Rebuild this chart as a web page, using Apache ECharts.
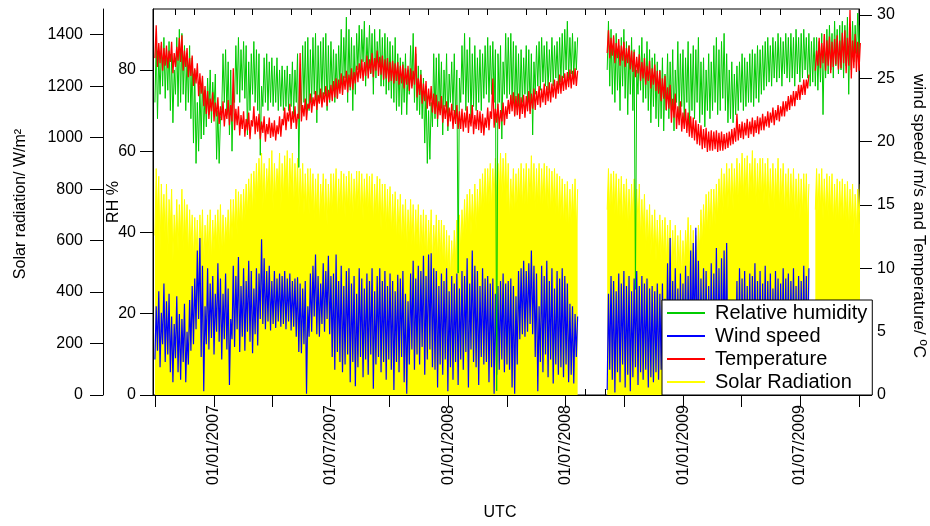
<!DOCTYPE html>
<html><head><meta charset="utf-8">
<script src="https://cdn.jsdelivr.net/npm/echarts@6/dist/echarts.min.js"></script>
<style>html,body{margin:0;padding:0;background:#fff}#c{width:930px;height:526px}</style>
</head><body><div id="c"></div>
<script>
// ---- time base: one low/high reading pair per 4-day window (UTC) ----
const startDate = [2006, 10, 1];
const stepDays = 4;
const axisStart = [2006, 9, 28];
const axisEnd = [2009, 10, 1];
const N = 11; // null run length helper is not used for values

// ---- Relative humidity (%), low / high of each window ----
const rhLo = [
 72,68,74,76,73,75,70,67,74,71,
 72,74,70,72,68,62,57,60,63,64,
 66,69,67,70,58,57,70,72,69,64,
 60,72,74,72,75,73,64,70,74,72,
 70,59,71,72,70,72,71,72,70,71,
 70,71,70,71,69,72,56,70,72,70,
 70,72,74,67,72,73,74,70,72,
 74,72,73,76,74,78,72,75,70,74,
 80,78,82,76,80,79,74,78,81,76,
 76,74,75,73,72,70,71,69,72,69,
 74,76,72,70,69,68,62,57,58,66,
 68,66,70,64,71,65,72,70,68,30,
 72,74,70,72,67,71,70,72,70,73,
 74,72,74,72,1,72,63,74,73,
 74,72,69,71,70,72,74,72,70,64,
 74,76,75,77,76,75,77,76,78,76,
 77,78,80,78,79,78,80,
 null,null,null,null,null,null,null,null,null,null,null,
 80,76,74,72,75,70,76,73,69,74,
 70,26,74,75,72,73,70,67,71,68,
 66,68,65,70,68,70,65,72,69,71,67,
 72,65,70,68,72,67,69,66,70,68,
 70,72,69,70,73,70,67,68,67,69,
 70,72,70,71,72,72,71,73,72,74,
 75,76,77,76,78,77,78,76,79,78,
 77,78,76,79,77,78,80,78,76,77,
 76,75,77,69,78,79,80,78,81,79,
 80,78,81,74,80,82,84,82
];
const rhHi = [
 87,84,86,88,85,87,84,80,88,90,
 89,86,84,86,83,80,72,76,78,75,
 78,80,77,79,70,68,84,85,82,80,
 74,86,88,85,87,86,82,84,87,85,
 84,76,83,84,82,83,81,83,80,81,
 80,81,79,82,80,84,78,86,87,88,
 85,88,89,86,87,88,89,86,87,
 85,84,86,90,88,93,90,88,86,89,
 91,90,92,88,91,89,90,87,90,88,
 89,88,87,86,88,84,83,82,84,80,
 86,89,84,81,80,78,76,70,72,84,
 83,84,82,80,84,79,82,84,80,78,
 86,89,85,88,84,86,83,85,84,86,
 88,86,87,85,84,86,82,89,88,
 89,87,86,84,85,83,86,85,84,82,
 86,87,88,86,87,85,88,86,87,88,
 89,90,92,88,89,87,88,
 null,null,null,null,null,null,null,null,null,null,null,
 92,90,88,89,86,88,90,87,86,88,
 85,80,86,88,84,87,85,83,84,82,
 80,83,79,84,82,85,80,87,84,85,83,
 87,84,86,85,88,82,83,80,84,82,
 86,88,85,87,89,84,80,82,79,81,
 82,84,83,82,84,85,84,86,85,86,
 87,88,86,88,87,89,88,87,89,88,
 89,88,90,88,89,90,88,89,87,88,
 88,87,89,86,90,91,89,92,90,91,
 92,91,93,90,92,91,94,91
];

// ---- Wind speed (m/s), low / high of each window ----
const windLo = [
 2.8,3.5,2.2,4.0,2.6,3.2,1.8,1.0,2.9,1.8,
 1.2,2.6,1.0,2.4,3.5,4.0,5.2,6.0,3.0,0.3,
 4.0,3.6,4.5,3.2,5.0,4.2,2.8,4.4,3.6,0.8,
 4.4,3.8,5.2,3.4,4.6,3.5,5.0,4.2,3.3,4.8,
 3.9,6.0,5.6,5.2,5.8,5.1,5.6,5.3,5.8,5.4,
 5.6,5.2,5.8,5.1,5.4,4.6,3.4,3.3,4.0,0.1,
 4.6,5.0,6.2,4.8,4.6,5.6,5.0,6.0,4.8,
 3.0,2.0,3.4,2.6,1.8,2.4,3.2,1.0,2.6,0.7,
 2.2,3.0,1.4,2.8,1.6,3.2,0.5,2.4,3.0,1.8,
 2.6,1.2,2.8,2.0,0.4,2.6,1.8,3.0,1.0,0.1,
 2.4,3.6,2.0,3.2,2.4,3.8,1.6,2.8,3.6,2.2,
 2.0,0.6,2.4,1.6,2.8,0.3,2.2,1.2,2.6,0.8,
 2.8,2.0,3.4,0.6,3.6,2.6,2.2,0.8,3.0,2.4,
 2.6,1.0,2.2,0.1,1.6,2.0,2.8,1.8,2.4,
 2.0,0.6,0.1,2.4,4.4,4.8,4.6,5.0,5.6,4.8,
 3.0,0.3,2.6,1.8,3.2,1.4,2.8,0.9,2.4,1.6,
 2.2,1.4,2.4,1.0,1.6,0.9,3.0,
 null,null,null,null,null,null,null,null,null,null,null,
 0.4,2.0,1.2,0.2,1.8,1.0,2.4,0.6,1.6,0.3,
 1.4,2.2,0.8,1.8,1.2,2.0,0.6,1.4,1.0,1.8,
 1.2,2.0,1.0,2.6,3.0,1.8,2.4,1.2,2.0,1.6,2.4,
 2.0,2.8,3.2,3.6,2.4,1.6,2.2,2.0,1.2,2.6,
 2.2,3.0,2.0,2.6,3.0,2.8,1.0,0.6,1.2,1.8,
 1.6,2.2,1.8,1.0,2.0,1.6,2.4,1.2,2.0,1.4,
 2.0,1.4,2.2,1.0,2.2,1.6,1.2,2.4,1.6,2.0,
 1.6,2.4,1.2,2.0,1.8,2.6,2.0,2.4,null,null,
 null,null,null,null,null,null,null,null,null,null,
 null,null,null,null,null,null,null,null
];
const windHi = [
 7.0,8.2,6.5,8.8,7.4,8.0,6.2,5.6,7.8,6.4,
 6.0,7.2,5.0,7.5,8.6,9.2,11.4,12.4,10.2,7.0,
 10.0,8.8,9.4,8.0,10.4,9.2,8.0,9.6,8.4,6.0,
 10.2,9.4,10.9,8.6,10.0,9.0,10.6,9.8,8.4,10.0,
 9.6,12.3,10.8,9.8,10.2,9.0,9.8,9.2,9.6,9.4,
 9.8,9.2,9.6,9.0,9.2,9.3,8.8,8.4,9.0,7.0,
 9.6,10.2,11.1,9.4,8.8,10.4,9.8,11.0,9.4,
 9.6,11.1,9.0,10.2,8.6,9.8,10.0,8.8,9.4,8.0,
 10.0,9.2,8.4,9.6,9.0,10.0,8.2,9.4,10.0,9.0,
 9.8,8.6,9.6,9.0,8.2,9.5,9.2,9.8,8.0,7.4,
 9.6,10.6,9.2,10.2,9.8,11.0,9.4,11.1,11.2,10.0,
 9.8,8.6,9.6,9.0,10.0,8.2,9.4,8.8,9.6,8.4,
 9.8,9.4,10.8,8.8,11.4,10.2,9.8,8.6,10.0,9.2,
 9.4,8.8,9.2,8.0,8.6,9.0,9.6,8.8,9.0,
 9.2,8.6,7.8,9.8,10.0,10.6,9.8,10.4,11.4,10.2,
 9.6,7.0,10.2,9.4,10.6,9.0,10.0,8.4,9.8,9.2,
 10.0,9.4,8.8,7.2,7.0,6.4,6.2,
 null,null,null,null,null,null,null,null,null,null,null,
 8.0,9.4,9.0,8.2,9.6,8.8,9.8,8.6,9.4,8.2,
 9.2,9.8,8.6,9.4,8.8,9.2,8.4,8.6,8.2,8.8,
 8.0,8.8,7.6,10.4,12.4,9.0,10.0,8.4,9.6,8.8,10.2,
 9.4,11.4,12.0,13.2,10.6,9.2,10.0,9.8,8.6,10.4,
 9.6,11.6,10.0,10.8,11.4,12.0,7.2,6.8,7.4,9.0,
 10.0,9.2,9.8,8.6,9.6,9.4,10.4,9.0,9.8,8.8,
 10.2,9.0,9.6,8.4,9.8,9.2,8.8,10.0,9.2,9.6,
 9.0,10.0,8.6,9.4,9.0,10.2,9.4,10.0,null,null,
 null,null,null,null,null,null,null,null,null,null,
 null,null,null,null,null,null,null,null
];

// ---- Temperature (deg C), low / high of each window ----
const tempLo = [
 26.6,25.9,26.2,25.6,26.0,25.8,26.3,25.4,25.9,26.4,
 26.3,25.6,25.9,25.1,25.2,24.4,24.6,23.6,23.8,22.8,
 22.2,21.8,22.4,21.6,22.0,21.4,21.7,21.2,21.8,21.3,
 21.6,20.9,21.3,20.5,21.0,20.4,20.9,20.2,21.2,20.6,
 20.8,20.2,20.7,20.0,20.6,20.3,20.4,20.1,20.6,20.4,
 21.3,20.9,21.6,21.0,21.5,21.0,21.8,21.6,22.0,21.7,
 22.6,22.3,22.8,22.5,23.0,22.7,23.1,22.8,23.3,
 23.2,23.5,23.4,23.8,23.7,24.1,23.9,24.3,24.1,24.6,
 24.7,25.0,24.8,25.2,25.0,25.4,25.1,25.6,25.2,25.3,
 24.9,25.0,24.7,24.8,24.6,24.8,24.5,24.6,24.2,24.5,
 24.0,24.2,24.5,23.5,23.7,23.0,23.2,22.6,22.8,22.3,
 22.2,21.8,22.1,21.5,21.8,21.2,21.6,21.0,21.4,21.0,
 21.0,20.8,21.1,20.7,21.2,20.6,21.0,20.9,20.7,20.5,
 21.1,20.9,21.8,21.1,21.5,21.0,21.6,21.3,21.8,
 22.2,22.4,22.0,22.1,21.8,22.2,21.9,22.4,22.2,22.6,
 22.5,22.9,22.7,23.1,22.9,23.2,23.1,23.5,23.4,23.8,
 23.8,24.0,24.1,24.3,24.2,24.5,24.4,
 null,null,null,null,null,null,null,null,null,null,null,
 27.0,26.6,26.8,26.2,26.6,26.0,26.4,25.9,26.2,25.7,
 25.5,25.1,25.4,24.8,25.0,24.5,24.8,24.2,24.5,24.0,
 23.8,23.2,23.4,22.5,22.6,21.5,21.9,21.0,21.3,20.8,21.0,
 20.7,20.4,20.3,20.1,19.8,19.7,19.4,19.5,19.2,19.3,
 19.3,19.4,19.2,19.3,19.3,19.4,19.5,19.7,19.8,20.0,
 20.1,20.3,20.2,20.5,20.3,20.6,20.4,20.7,20.6,20.9,
 20.9,21.2,21.1,21.5,21.3,21.7,21.6,22.0,22.0,22.4,
 22.5,22.8,22.8,23.3,23.3,23.7,23.7,24.2,null,null,
 25.6,26.0,25.8,26.2,25.6,26.0,25.4,25.9,26.1,25.7,
 25.8,26.2,25.4,26.0,25.0,25.8,25.5,25.6
];
const tempHi = [
 29.2,27.8,27.9,27.4,27.6,27.2,27.9,27.0,27.5,28.2,
 28.4,27.2,27.4,26.6,26.8,25.8,26.2,25.4,25.2,24.4,
 24.0,23.4,23.9,23.1,23.5,22.8,23.2,22.6,23.3,22.9,
 25.8,22.6,22.8,22.1,22.4,21.8,22.3,21.7,22.8,22.0,
 22.2,21.6,22.0,21.4,21.9,21.5,21.7,21.3,22.0,21.8,
 22.7,22.3,23.0,22.4,22.8,22.2,27.0,22.9,23.4,23.0,
 23.8,23.5,24.0,23.7,24.2,23.9,24.4,24.1,24.5,
 24.8,25.0,24.9,25.4,25.2,25.6,25.3,25.8,25.5,26.0,
 26.2,26.5,26.3,26.8,26.5,27.0,26.6,27.2,26.7,26.8,
 26.5,26.6,26.3,26.4,26.2,26.3,26.0,26.1,25.8,26.0,
 25.8,25.6,27.5,25.0,25.3,24.6,24.8,24.2,24.4,23.8,
 23.7,23.2,23.6,22.9,23.2,22.7,23.0,22.5,22.9,22.4,
 22.6,22.3,22.8,22.2,22.9,22.1,22.5,22.4,22.2,21.9,
 22.7,22.4,25.0,22.6,23.0,22.5,23.1,22.8,23.3,
 23.7,23.9,23.6,23.8,23.5,23.7,23.6,24.0,23.8,24.2,
 24.0,24.4,24.2,24.6,24.4,24.7,24.6,24.9,24.8,25.3,
 25.2,25.4,25.5,25.7,25.6,25.8,25.6,
 null,null,null,null,null,null,null,null,null,null,null,
 28.8,28.2,28.4,27.8,28.1,27.6,27.9,27.4,27.6,27.2,
 27.1,26.7,26.9,26.3,26.6,26.0,26.4,25.8,26.1,25.6,
 25.6,25.0,25.2,24.3,24.5,23.4,23.8,22.8,23.2,22.3,22.6,
 22.3,22.0,21.9,21.7,21.4,21.3,21.0,21.1,20.8,20.9,
 20.8,20.9,20.7,20.8,20.6,20.7,20.8,21.0,21.1,22.2,
 21.4,21.6,21.5,21.8,21.6,21.9,21.7,22.0,21.9,22.2,
 22.0,22.4,22.3,22.7,22.5,22.9,22.8,23.2,23.2,23.6,
 23.7,24.0,24.0,24.5,24.5,24.9,24.9,25.3,null,null,
 27.2,28.2,27.8,28.5,28.0,28.3,27.9,28.1,28.4,28.0,
 28.6,28.8,28.2,30.4,28.0,28.5,27.9,27.8
];

// ---- Solar radiation (W/m2), lower / higher daily peak of each window ----
const solarLo = [
 620,700,560,650,600,540,650,520,600,560,
 620,560,600,540,560,520,540,500,560,500,
 560,540,520,560,580,560,540,560,600,580,
 600,640,620,660,640,680,700,720,700,740,
 760,780,720,740,780,760,720,760,800,720,
 760,800,740,780,720,760,700,740,700,720,
 700,720,680,700,660,720,680,660,700,
 700,740,680,720,700,690,720,700,680,720,
 720,700,680,720,700,700,660,700,680,640,
 660,640,650,620,640,600,620,580,600,560,
 600,580,560,580,540,560,540,520,560,500,
 540,520,520,500,480,460,450,480,520,540,
 560,600,620,640,620,660,640,680,700,720,
 720,740,720,760,740,780,760,780,740,
 680,720,700,720,740,720,740,720,760,740,
 720,740,720,740,730,720,700,720,700,680,
 680,660,670,640,660,680,640,
 null,null,null,null,null,null,null,null,null,null,null,
 720,700,710,700,680,690,660,680,640,660,
 680,640,660,600,620,560,580,540,560,520,
 540,520,530,500,520,480,500,460,480,440,480,
 540,500,480,460,500,560,580,620,630,640,
 640,660,680,720,700,740,720,740,720,760,
 740,780,760,770,740,790,760,740,760,760,
 740,760,720,740,720,760,720,740,700,720,
 700,720,680,700,680,700,700,660,null,null,
 720,700,720,680,700,690,700,660,680,670,
 680,660,670,640,660,620,640,660
];
const solarHi = [
 880,850,820,780,820,760,800,700,760,740,
 800,760,740,720,700,690,680,700,720,660,
 700,720,680,700,720,740,700,690,720,760,
 760,800,790,780,800,820,840,860,870,900,
 920,940,900,880,920,950,900,880,940,900,
 930,950,920,940,900,920,880,900,860,880,
 880,860,840,860,820,860,840,820,860,
 860,880,840,870,860,850,870,860,840,870,
 870,860,840,860,850,860,820,850,840,820,
 820,800,810,780,790,760,780,740,760,720,
 760,740,720,740,700,720,700,680,720,660,
 700,680,680,660,640,620,600,640,680,700,
 720,760,780,800,780,820,800,840,860,880,
 880,900,880,920,900,940,920,940,900,
 840,880,860,880,900,880,900,880,930,900,
 880,900,880,900,890,880,870,880,860,850,
 840,820,830,800,820,840,800,
 null,null,null,null,null,null,null,null,null,null,null,
 880,860,870,860,840,850,820,840,800,820,
 840,800,820,760,780,720,740,700,720,680,
 700,680,690,660,680,640,660,620,640,600,640,
 690,660,640,620,660,720,740,780,790,800,
 800,820,840,880,860,900,880,900,880,920,
 900,940,920,930,900,950,920,900,920,920,
 900,920,880,900,880,920,880,900,860,880,
 860,880,840,860,840,860,860,820,null,null,
 880,860,880,840,860,850,860,820,840,830,
 840,820,830,800,820,780,800,820
];

// ---- axis ticks / labels ----
const xLabelDates = [[2007,1,1],[2007,7,1],[2008,1,1],[2008,7,1],[2009,1,1],[2009,7,1]];
const rhTicks = [0,20,40,60,80];
const solarTicks = [0,200,400,600,800,1000,1200,1400];
const rightTicks = [0,5,10,15,20,25,30];
const legendNames = ['Relative humidity','Wind speed','Temperature','Solar Radiation'];

const DAY = 86400000;
const utc = a => Date.UTC(a[0], a[1]-1, a[2]);
const t0 = utc(startDate);
[rhLo, rhHi, windLo, windHi, tempLo, tempHi, solarLo, solarHi].forEach((a, k) => {
  if (a.length !== 275) throw new Error('array ' + k + ' has ' + a.length);
});
// each window contributes its low reading, then its high reading half a window later
const pairs = (lo, hi) => {
  const out = [];
  lo.forEach((v, i) => {
    const t = t0 + i * stepDays * DAY;
    out.push([t, v]);
    out.push([t + stepDays * DAY / 2, hi[i]]);
  });
  return out;
};

const xMin = utc(axisStart), xMax = utc(axisEnd);
const monthTicks = [], quarterTicks = [];
for (let y = 2006; y <= 2009; y++) for (let m = 0; m < 12; m++) {
  const t = Date.UTC(y, m, 1);
  if (t < xMin || t > xMax) continue;
  if (m % 3 === 0) quarterTicks.push(t); else monthTicks.push(t);
}
const pad = n => (n < 10 ? '0' : '') + n;
const fmtDate = v => { const d = new Date(v); return pad(d.getUTCDate()) + '/' + pad(d.getUTCMonth()+1) + '/' + d.getUTCFullYear(); };

const F = '"Liberation Sans", Arial, Helvetica, sans-serif';
const black = '#000';
const txt = {fontFamily: F, fontSize: 16, color: black};

function xAxisDef(pos, ticks, len, withLabels) {
  const ax = {
    type: 'value', min: xMin, max: xMax, position: pos, scale: true,
    axisLine: {show: withLabels, lineStyle: {color: black, width: 1}},
    axisTick: {show: true, inside: true, length: len, customValues: ticks, lineStyle: {color: black, width: 1}},
    axisLabel: {show: false},
    splitLine: {show: false}, minorTick: {show: false}
  };
  if (withLabels) {
    ax.axisLabel = Object.assign({show: true, customValues: xLabelDates.map(utc), rotate: 90, margin: 10, formatter: fmtDate}, txt);
    ax.name = 'UTC'; ax.nameLocation = 'middle'; ax.nameGap = 110; ax.nameMoveOverlap = false;
    ax.nameTextStyle = Object.assign({padding: [0, 12, 0, 0]}, txt);
  }
  return ax;
}

function yAxisDef(pos, offset, max, ticks, margin) {
  return {
    type: 'value', min: 0, max: max, position: pos, offset: offset,
    axisLine: {show: true, lineStyle: {color: black, width: 1}},
    axisTick: {show: true, inside: false, length: 13, customValues: ticks, lineStyle: {color: black, width: 1}},
    axisLabel: Object.assign({customValues: ticks, margin: margin, formatter: v => String(v)}, txt),
    splitLine: {show: false}
  };
}

const yRH = yAxisDef('left', 0, 95, rhTicks, 17);
yRH.name = 'RH %'; yRH.nameLocation = 'middle'; yRH.nameGap = 31; yRH.nameMoveOverlap = false;
yRH.nameTextStyle = Object.assign({}, txt);
const ySolar = yAxisDef('left', 50, 1500, solarTicks, 20);
const yRight = yAxisDef('right', 0, 30.48, rightTicks, 18);

const lineSeries = (name, lo, hi, yIdx, color, width, extra) => Object.assign({
  name: name, type: 'line', xAxisIndex: 0, yAxisIndex: yIdx, data: pairs(lo, hi),
  symbol: 'none', showSymbol: false, connectNulls: false,
  lineStyle: {color: color, width: width}, itemStyle: {color: color}
}, extra || {});

const chart = echarts.init(document.getElementById('c'), null, {renderer: 'canvas'});
chart.setOption({
  animation: false,
  backgroundColor: '#fff',
  grid: {left: 153, right: 71, top: 9, bottom: 129, show: true, borderColor: black, borderWidth: 1, containLabel: false},
  xAxis: [
    xAxisDef('bottom', quarterTicks, 12, true),
    xAxisDef('bottom', monthTicks, 6, false),
    xAxisDef('top', quarterTicks, 12, false),
    xAxisDef('top', monthTicks, 6, false)
  ],
  yAxis: [yRH, ySolar, yRight],
  legend: {
    data: legendNames, orient: 'vertical', left: 662, top: 300,
    padding: [3, 5, 3, 5], itemWidth: 38, itemHeight: 2, itemGap: 3, icon: 'rect',
    backgroundColor: '#fff', borderColor: black, borderWidth: 1, borderRadius: 0,
    selectedMode: false,
    textStyle: {fontFamily: F, fontSize: 20, color: black, lineHeight: 20, padding: [0, 0, 0, 5]}
  },
  graphic: [
    {type: 'text', x: 21, y: 204, rotation: Math.PI / 2,
     style: {text: 'Solar radiation/ W/m²', font: '16px ' + F, fill: black, textAlign: 'center', textVerticalAlign: 'middle'}},
    {type: 'text', x: 919, y: 216, rotation: -Math.PI / 2,
     style: {text: 'wind speed/ m/s and Temperature/ ºC', font: '17px ' + F, fill: black, textAlign: 'center', textVerticalAlign: 'middle'}}
  ],
  series: [
    lineSeries('Solar Radiation', solarLo, solarHi, 1, '#ffff00', 1, {areaStyle: {color: '#ffff00', opacity: 1}}),
    lineSeries('Wind speed', windLo, windHi, 2, '#0000ff', 1.2),
    lineSeries('Relative humidity', rhLo, rhHi, 0, '#00cc00', 1),
    lineSeries('Temperature', tempLo, tempHi, 2, '#ff0000', 1.3)
  ]
});
</script>
</body></html>
